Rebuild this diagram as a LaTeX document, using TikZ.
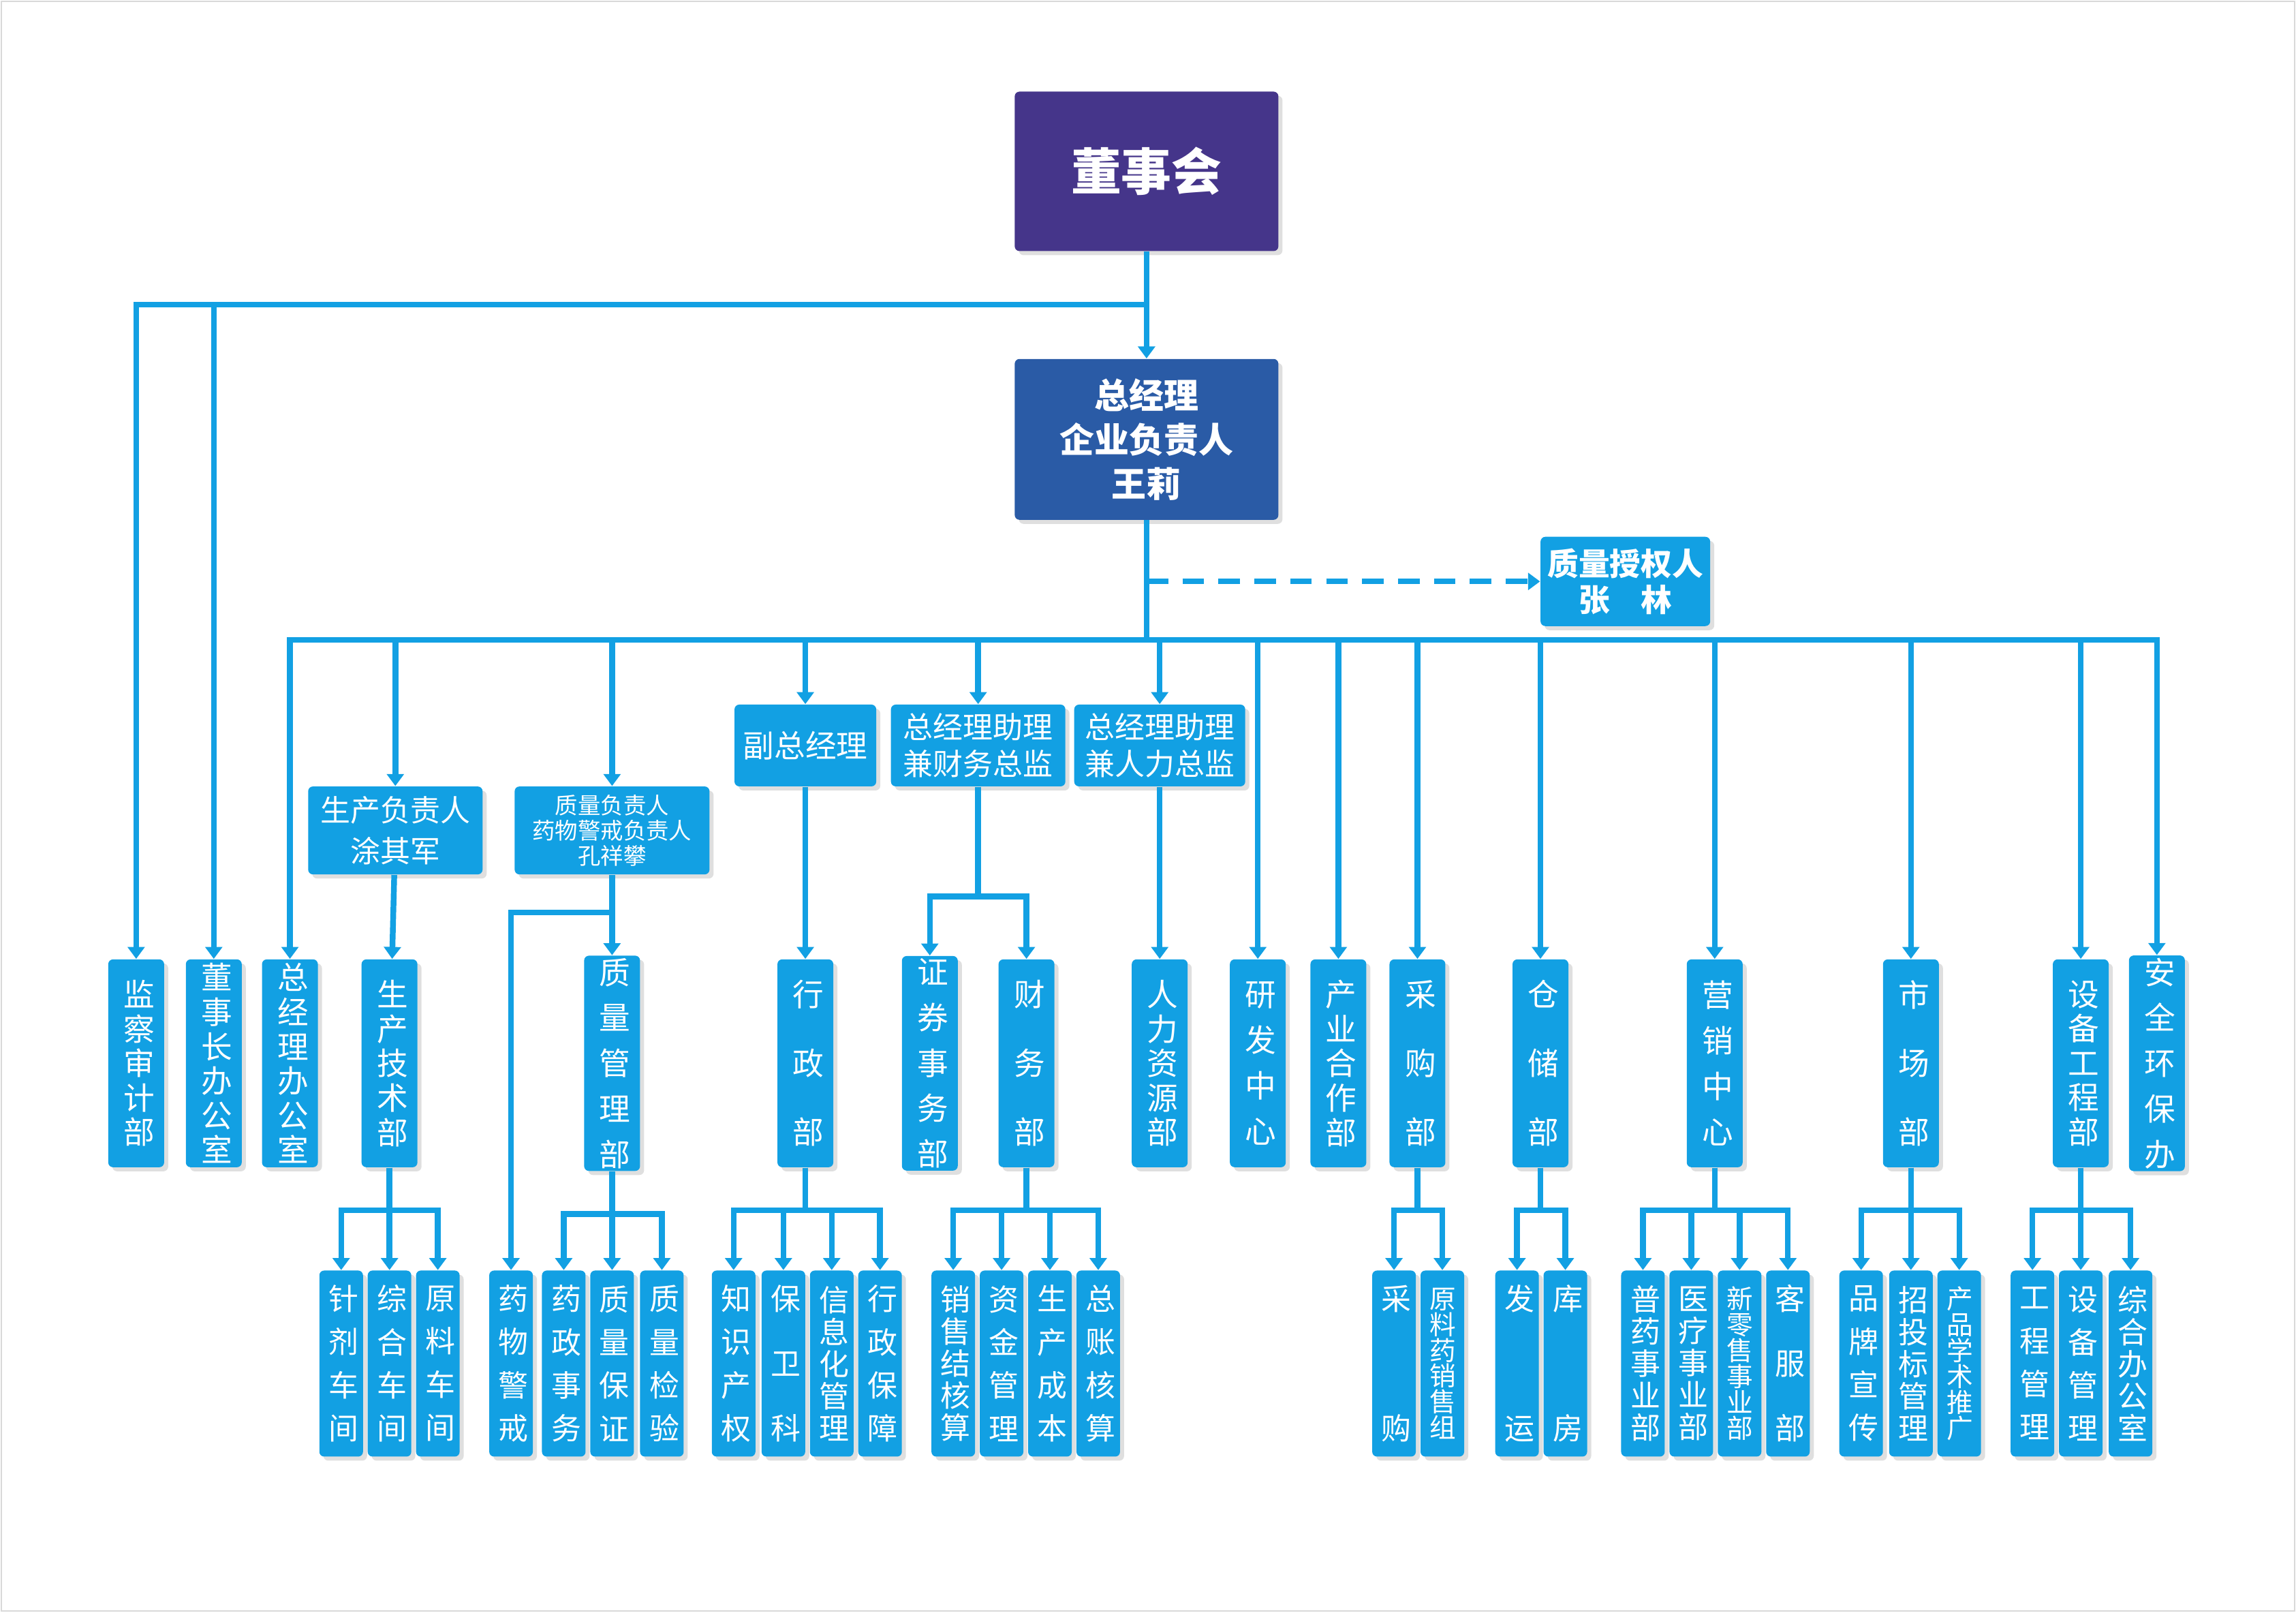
\documentclass[tikz,border=0pt]{standalone}
\usepackage{fontspec}
\setmainfont{Noto Sans CJK SC}
\XeTeXlinebreaklocale "zh"
\XeTeXlinebreakskip=0pt plus 0.5pt
\usetikzlibrary{arrows.meta,shadows}
\definecolor{dshcol}{HTML}{45358A}
\definecolor{zjlcol}{HTML}{2A5BA6}
\definecolor{bcol}{HTML}{12A0E3}
\tikzset{
  box/.style={fill=bcol,text=white,rounded corners=2pt,align=center,inner sep=1pt,
    drop shadow={shadow xshift=0.6mm,shadow yshift=-0.6mm,opacity=0.25}},
  col/.style={box,minimum width=8.2mm,minimum height=30.5mm,text width=1.05em,
    font=\fontsize{13}{#1}\selectfont},
  bot/.style={box,minimum width=6.4mm,minimum height=27.3mm,text width=1.05em,
    font=\fontsize{12.5}{#1}\selectfont},
  ln/.style={draw=bcol,line width=2.4pt},
  arr/.style={ln,-{Triangle[width=7pt,length=5pt]}},
}
\begin{document}
\begin{tikzpicture}[x=0.2149mm,y=-0.2149mm]
\useasboundingbox (0,0) rectangle (1568,1101);
\draw[black!15,line width=0.6pt] (1,1) rectangle (1567,1100);

% top boxes
\node[box,fill=dshcol,minimum width=38.7mm,minimum height=23.4mm,font=\fontsize{21}{25}\selectfont\bfseries] (dsh) at (783,117) {董事会};
\node[box,fill=zjlcol,minimum width=38.7mm,minimum height=23.6mm,font=\fontsize{14.5}{18.5}\selectfont\bfseries] (zjl) at (783,300) {总经理\\企业负责人\\王莉};
\node[box,minimum width=24.9mm,minimum height=13.1mm,font=\fontsize{13}{15}\selectfont\bfseries] (zlsq) at (1110,397) {质量授权人\\张\quad 林};

% second level
\node[box,minimum width=20.8mm,minimum height=12mm,font=\fontsize{13}{15}\selectfont] (fzjl) at (550,509) {副总经理};
\node[box,minimum width=25.6mm,minimum height=12mm,font=\fontsize{12.5}{15.5}\selectfont] (cwzj) at (668,509) {总经理助理\\兼财务总监};
\node[box,minimum width=25.1mm,minimum height=12mm,font=\fontsize{12.5}{15.5}\selectfont] (rlzj) at (792,509) {总经理助理\\兼人力总监};
\node[box,minimum width=25.6mm,minimum height=12.9mm,font=\fontsize{12.5}{17}\selectfont] (scfz) at (270,567) {生产负责人\\涂其军};
\node[box,minimum width=28.6mm,minimum height=12.9mm,font=\fontsize{9.5}{10.5}\selectfont] (zlfz) at (418,567) {质量负责人\\药物警戒负责人\\孔祥攀};

% columns
\node[col=14.4pt] (jcsj) at (93,726) {监察审计部};
\node[col=14.4pt] (dszb) at (146,726) {董事长办公室};
\node[col=14.4pt] (zjlb) at (198,726) {总经理办公室};
\node[col=14.4pt] (scjs) at (266,726) {生产技术部};
\node[col=19pt] (zlgl) at (418,726) {质量管理部};
\node[col=28.7pt] (xzb) at (550,726) {行政部};
\node[col=19pt] (zqsw) at (635,726) {证券事务部};
\node[col=28.7pt] (cwb) at (701,726) {财务部};
\node[col=14.4pt] (rlzy) at (792,726) {人力资源部};
\node[col=19pt] (yfzx) at (859,726) {研发中心};
\node[col=14.4pt] (cyhz) at (914,726) {产业合作部};
\node[col=28.7pt] (cgb) at (968,726) {采购部};
\node[col=28.7pt] (ccb) at (1052,726) {仓储部};
\node[col=19pt] (yxzx) at (1171,726) {营销中心};
\node[col=28.7pt] (scb) at (1305,726) {市场部};
\node[col=14.4pt] (sbgc) at (1421,726) {设备工程部};
\node[col=19pt] (aqhb) at (1473,726) {安全环保办};

% bottom row
\node[bot=18pt] (zjcj) at (233,931) {针剂车间};
\node[bot=18pt] (zhcj) at (266,931) {综合车间};
\node[bot=18pt] (ylcj) at (299,931) {原料车间};
\node[bot=18pt] (ywjj) at (349,931) {药物警戒};
\node[bot=18pt] (yzsw) at (385,931) {药政事务};
\node[bot=18pt] (zlbz) at (418,931) {质量保证};
\node[bot=18pt] (zljy) at (452,931) {质量检验};
\node[bot=18pt] (zscq) at (501,931) {知识产权};
\node[bot=27pt] (bwk) at (535,931) {保卫科};
\node[bot=13.4pt] (xxh) at (568,931) {信息化管理};
\node[bot=18pt] (xzbz) at (601,931) {行政保障};
\node[bot=13.4pt] (xsjh) at (651,931) {销售结核算};
\node[bot=18pt] (zjgl) at (684,931) {资金管理};
\node[bot=18pt] (sccb) at (717,931) {生产成本};
\node[bot=18pt] (zzhs) at (750,931) {总账核算};
\node[bot=54pt] (cg) at (952,931) {采购};
\node[bot=10.8pt,font=\fontsize{11}{10.8}\selectfont] (yyxs) at (985,931) {原料药销售组};
\node[bot=54pt] (fy) at (1036,931) {发运};
\node[bot=54pt] (kf) at (1069,931) {库房};
\node[bot=13.4pt] (pysy) at (1122,931) {普药事业部};
\node[bot=13.4pt] (ylsy) at (1155,931) {医疗事业部};
\node[bot=10.8pt,font=\fontsize{11}{10.8}\selectfont] (xlss) at (1188,931) {新零售事业部};
\node[bot=27pt] (kfb) at (1221,931) {客服部};
\node[bot=18pt] (ppxc) at (1271,931) {品牌宣传};
\node[bot=13.4pt] (ztb) at (1305,931) {招投标管理};
\node[bot=10.8pt,font=\fontsize{11}{10.8}\selectfont] (cpxs) at (1338,931) {产品学术推广};
\node[bot=18pt] (gcgl) at (1388,931) {工程管理};
\node[bot=18pt] (sbgl) at (1421,931) {设备管理};
\node[bot=13.4pt] (zhbg) at (1455,931) {综合办公室};

% junctions
\coordinate (j0) at (783,208);
\coordinate (j1) at (783,397);
\coordinate (j2) at (783,437);
\coordinate (j3) at (668,612);
\coordinate (j4) at (418,623);

% connectors
\draw[arr] (dsh) -- (zjl);
\draw[arr] (j0) -| (jcsj.north);
\draw[arr] (j0) -| (dszb.north);
\draw[ln] (zjl) -- (j2);
\draw[arr,dashed,dash pattern=on 9pt off 6pt] (j1) -- (zlsq.west);
\foreach \t in {zjlb,scfz,zlfz,fzjl,cwzj,rlzj,yfzx,cyhz,cgb,ccb,yxzx,scb,sbgc,aqhb}
  \draw[arr] (j2) -| (\t.north);
\draw[arr] (scfz) -- (scjs);
\draw[arr] (zlfz) -- (zlgl);
\draw[arr] (j4) -| (ywjj.north);
\draw[arr] (fzjl) -- (xzb);
\draw[ln] (cwzj) -- (j3);
\draw[arr] (j3) -| (zqsw.north);
\draw[arr] (j3) -| (cwb.north);
\draw[arr] (rlzj) -- (rlzy);
\foreach \p/\cs in {scjs/{zjcj,zhcj,ylcj},zlgl/{yzsw,zlbz,zljy},xzb/{zscq,bwk,xxh,xzbz},
    cwb/{xsjh,zjgl,sccb,zzhs},cgb/{cg,yyxs},ccb/{fy,kf},yxzx/{pysy,ylsy,xlss,kfb},
    scb/{ppxc,ztb,cpxs},sbgc/{gcgl,sbgl,zhbg}}
  \foreach \c in \cs
    \draw[arr] (\p.south) -- ++(0,29) -| (\c.north);
\end{tikzpicture}
\end{document}
